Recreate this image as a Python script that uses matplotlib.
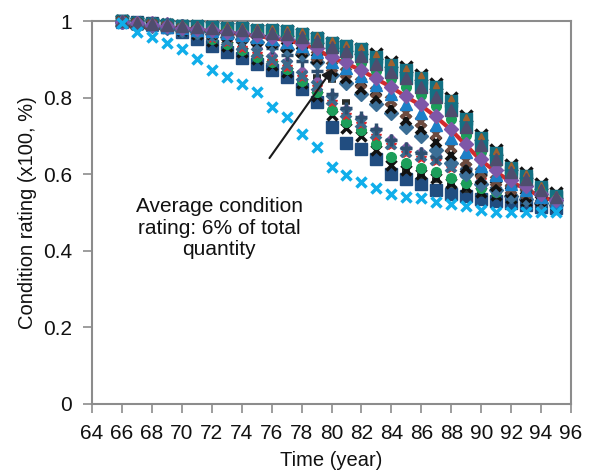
import matplotlib
matplotlib.use("Agg")
import matplotlib.pyplot as plt

plt.rcParams['font.family'] = ['Liberation Sans', 'DejaVu Sans']

years = list(range(66, 96))
x_ticks = list(range(64, 97, 2))
y_ticks = [0, 0.2, 0.4, 0.6, 0.8, 1.0]
y_tick_labels = ["0", "0.2", "0.4", "0.6", "0.8", "1"]

# ---- upper cluster ----
upper_teal = [1.0, 0.997, 0.994, 0.991, 0.989, 0.987, 0.986, 0.984, 0.982, 0.979, 0.977, 0.974, 0.968, 0.958, 0.945,
              0.936, 0.927, 0.908, 0.887, 0.873, 0.853, 0.828, 0.793, 0.745, 0.695, 0.655, 0.618, 0.597, 0.566, 0.543]
upper_black_top = [1.0, 0.997, 0.994, 0.991, 0.989, 0.987, 0.986, 0.984, 0.982, 0.979, 0.977, 0.974, 0.968, 0.958, 0.945,
                   0.936, 0.927, 0.916, 0.895, 0.881, 0.861, 0.836, 0.801, 0.753, 0.703, 0.663, 0.626, 0.605, 0.574, 0.551]
upper_slate = [1.0, 0.996, 0.993, 0.990, 0.987, 0.985, 0.983, 0.980, 0.978, 0.974, 0.971, 0.967, 0.960, 0.949, 0.932,
               0.922, 0.909, 0.890, 0.868, 0.851, 0.830, 0.803, 0.769, 0.723, 0.677, 0.641, 0.607, 0.588, 0.560, 0.540]
upper_green = [0.999, 0.996, 0.992, 0.989, 0.986, 0.983, 0.980, 0.977, 0.973, 0.969, 0.965, 0.960, 0.952, 0.939, 0.920,
               0.907, 0.892, 0.871, 0.849, 0.829, 0.807, 0.779, 0.744, 0.702, 0.659, 0.627, 0.596, 0.578, 0.554, 0.536]
upper_purple = [0.999, 0.995, 0.991, 0.987, 0.984, 0.980, 0.977, 0.973, 0.969, 0.964, 0.959, 0.953, 0.944, 0.930, 0.907,
                0.893, 0.874, 0.853, 0.830, 0.806, 0.784, 0.754, 0.720, 0.680, 0.641, 0.612, 0.585, 0.569, 0.548, 0.533]
upper_blue = [0.999, 0.995, 0.990, 0.986, 0.982, 0.978, 0.974, 0.970, 0.965, 0.959, 0.954, 0.946, 0.936, 0.920, 0.894,
              0.878, 0.857, 0.834, 0.811, 0.784, 0.761, 0.730, 0.695, 0.658, 0.623, 0.598, 0.574, 0.560, 0.541, 0.529]
upper_brown_x = [0.999, 0.994, 0.990, 0.985, 0.981, 0.976, 0.971, 0.966, 0.960, 0.954, 0.948, 0.940, 0.928, 0.911, 0.881,
                 0.864, 0.839, 0.816, 0.792, 0.762, 0.738, 0.705, 0.671, 0.636, 0.605, 0.584, 0.563, 0.551, 0.535, 0.526]
upper_black_x = [0.998, 0.993, 0.989, 0.984, 0.979, 0.974, 0.968, 0.963, 0.956, 0.950, 0.943, 0.934, 0.921, 0.903, 0.870,
                 0.852, 0.824, 0.800, 0.775, 0.743, 0.718, 0.684, 0.650, 0.617, 0.589, 0.571, 0.554, 0.542, 0.530, 0.523]
upper_steel_d = [0.998, 0.993, 0.988, 0.983, 0.978, 0.972, 0.966, 0.960, 0.953, 0.946, 0.938, 0.928, 0.915, 0.895, 0.860,
                 0.840, 0.810, 0.785, 0.760, 0.725, 0.700, 0.664, 0.630, 0.600, 0.575, 0.560, 0.545, 0.535, 0.525, 0.520]
avg_red = [0.988, 0.987, 0.985, 0.983, 0.981, 0.978, 0.975, 0.971, 0.967, 0.962, 0.957, 0.951, 0.942, 0.928, 0.905,
           0.890, 0.872, 0.850, 0.828, 0.803, 0.780, 0.750, 0.716, 0.676, 0.636, 0.607, 0.580, 0.562, 0.542, 0.530]

# ---- lower cluster ----
lower_square = [1.0, 0.998, 0.995, 0.985, 0.972, 0.955, 0.935, 0.920, 0.905, 0.890, 0.872, 0.855, 0.823, 0.789, 0.724,
                0.682, 0.667, 0.641, 0.602, 0.589, 0.575, 0.560, 0.550, 0.545, 0.537, 0.530, 0.525, 0.520, 0.515, 0.512]
lower_bar = [1.0, 0.999, 0.996, 0.992, 0.984, 0.973, 0.960, 0.948, 0.933, 0.915, 0.898, 0.880, 0.865, 0.855, 0.846,
             0.790, 0.730, 0.695, 0.640, 0.610, 0.595, 0.585, 0.572, 0.560, 0.550, 0.542, 0.535, 0.528, 0.522, 0.518]
lower_black_x = [1.0, 0.998, 0.995, 0.989, 0.979, 0.966, 0.950, 0.936, 0.920, 0.902, 0.885, 0.868, 0.838, 0.806, 0.755,
                 0.722, 0.700, 0.665, 0.625, 0.612, 0.600, 0.591, 0.578, 0.566, 0.555, 0.547, 0.538, 0.530, 0.524, 0.520]
lower_green = [1.0, 0.998, 0.996, 0.991, 0.982, 0.970, 0.955, 0.942, 0.926, 0.908, 0.893, 0.876, 0.845, 0.815, 0.768,
               0.738, 0.715, 0.680, 0.645, 0.630, 0.618, 0.607, 0.590, 0.578, 0.565, 0.555, 0.545, 0.537, 0.530, 0.525]
lower_purple = [1.0, 1.0, 1.0, 0.998, 0.994, 0.986, 0.975, 0.962, 0.948, 0.930, 0.912, 0.897, 0.870, 0.844, 0.806,
                0.772, 0.747, 0.717, 0.692, 0.672, 0.660, 0.650, 0.632, 0.617, 0.602, 0.587, 0.572, 0.562, 0.552, 0.547]
lower_steel_x = [1.0, 0.999, 0.997, 0.993, 0.985, 0.975, 0.962, 0.950, 0.935, 0.918, 0.900, 0.885, 0.858, 0.832, 0.794,
                 0.760, 0.735, 0.705, 0.680, 0.660, 0.648, 0.638, 0.620, 0.605, 0.590, 0.575, 0.560, 0.550, 0.540, 0.535]
lower_red = [0.996, 0.995, 0.993, 0.989, 0.981, 0.971, 0.958, 0.946, 0.931, 0.914, 0.896, 0.881, 0.854, 0.828, 0.790,
             0.756, 0.731, 0.701, 0.676, 0.656, 0.644, 0.634, 0.616, 0.601, 0.586, 0.571, 0.556, 0.546, 0.536, 0.531]
plus_series = [1.0, 0.999, 0.997, 0.994, 0.990, 0.984, 0.977, 0.968, 0.958, 0.943, 0.930, 0.913, 0.896, 0.870, 0.810,
               0.775, 0.750, 0.720, 0.690, 0.670, 0.655, 0.645, 0.630, 0.615, 0.600, 0.585, 0.570, 0.560, 0.550, 0.540]
light_blue_x = [0.995, 0.972, 0.959, 0.944, 0.929, 0.903, 0.872, 0.855, 0.836, 0.816, 0.777, 0.749, 0.705, 0.671, 0.619,
                0.599, 0.580, 0.564, 0.549, 0.542, 0.538, 0.529, 0.523, 0.517, 0.508, 0.503, 0.503, 0.503, 0.503, 0.503]

fig = plt.figure(figsize=(5.94, 4.72), dpi=100)
ax = fig.add_axes([0.1549, 0.1441, 0.8064, 0.8104])

def pts(vals, marker, color, ms, mew=None, z=3, **kw):
    kwargs = dict(linestyle='none', marker=marker, color=color, markersize=ms,
                  clip_on=False, zorder=z)
    if mew is not None:
        kwargs['markeredgewidth'] = mew
    kwargs.update(kw)
    ax.plot(years, vals, **kwargs)

# red average line (behind)
ax.plot(years, avg_red, color='#D12A2E', lw=3.0, zorder=3, clip_on=False, solid_capstyle='butt')

# lower cluster
pts(lower_square, 's', '#214D80', 8.7, z=4)
pts(lower_bar, '_', '#2A2E2A', 6, mew=4, z=4.1)
pts(lower_black_x, 'x', '#111111', 7, mew=2.5, z=4.2)
pts(lower_green, 'o', '#1C9E5A', 7, z=4.3)
pts(lower_purple, 'D', '#8A5BA8', 5, z=4.4)
pts(lower_red, '*', '#E0262B', 8, z=4.5)
pts(lower_steel_x, 'x', '#3C6A8C', 7.5, mew=2.8, z=4.6)
pts(plus_series, '+', '#2F4F70', 8, mew=2.5, z=4.7)

# upper cluster
pts(upper_black_top, 'x', '#111111', 8, mew=2.5, z=5)
pts(upper_teal, 's', '#137083', 8.7, z=5.1)
pts(upper_slate, 's', '#137083', 8.7, z=5.2)
pts(upper_steel_d, 'D', '#3B6E96', 7, z=5.3)
pts(upper_black_x, 'x', '#111111', 7.5, mew=2.8, z=5.4)
pts(upper_brown_x, 'x', '#6E4B3F', 7.5, mew=2.8, z=5.5)
pts(upper_blue, '^', '#1C7FC7', 8.5, z=5.6)
pts(upper_green, 'o', '#1C9E5A', 7, z=5.7)
pts(upper_purple, 'D', '#7E57A8', 7, z=5.8)
pts([v + 0.006 for v in upper_teal], '^', '#A0602E', 5, z=5.85)
pts(upper_slate, '^', '#4F4D6E', 9, z=5.9)

# lowest curve
pts(light_blue_x, 'x', '#10AEEA', 7.5, mew=2.5, z=6)

# annotation
ax.annotate("", xy=(80.2, 0.883), xytext=(75.75, 0.637),
            arrowprops=dict(arrowstyle='-|>', color='#1a1a1a', lw=1.5, mutation_scale=16),
            zorder=7)
ax.text(72.5, 0.46, "Average condition\nrating: 6% of total\nquantity", ha='center', va='center',
        fontsize=15, linespacing=1.15, color='#111111')

ax.set_xlim(64, 96)
ax.set_ylim(0, 1)
ax.set_xticks(x_ticks)
ax.set_xticklabels([str(t) for t in x_ticks])
ax.set_yticks(y_ticks)
ax.set_yticklabels(y_tick_labels)
for sp in ax.spines.values():
    sp.set_color('#8C8C8C')
    sp.set_linewidth(1.5)
ax.tick_params(axis='both', direction='out', length=6.5, width=1.2, color='#8C8C8C',
               labelsize=15, labelcolor='#111111')
ax.tick_params(axis='x', pad=8)
ax.tick_params(axis='y', pad=8)
ax.set_xlabel("Time (year)", fontsize=14.5, labelpad=6, color='#111111')
ax.set_ylabel("Condition rating (x100, %)", fontsize=14.5, labelpad=4, color='#111111')

fig.savefig("out.png", dpi=100)
